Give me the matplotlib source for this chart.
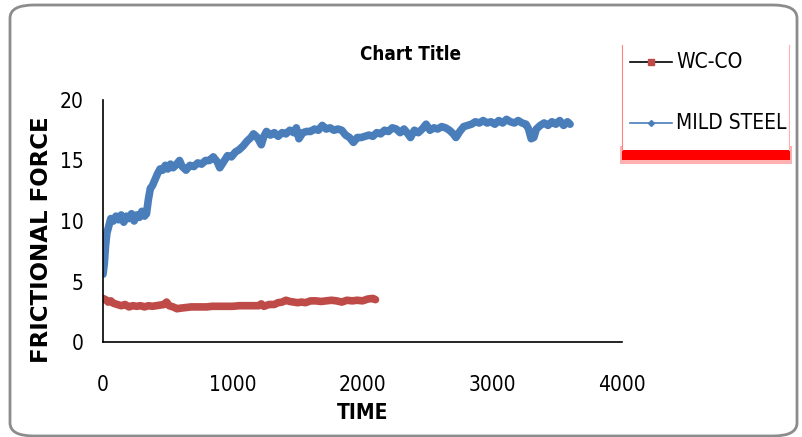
import matplotlib
matplotlib.use("Agg")
import matplotlib.pyplot as plt
from matplotlib import font_manager
from matplotlib.patches import FancyBboxPatch, Rectangle
from matplotlib.lines import Line2D

# ---- data ----
steel_time = [0, 10, 20, 30, 45, 60, 80, 100, 120, 140, 160, 180, 200, 220, 240, 260, 280, 300, 320, 335,
              350, 365, 380, 400, 420, 440, 460, 480, 500, 520, 540, 560, 590, 610, 640, 670, 700, 730, 760, 790,
              820, 850, 880, 900, 930, 960, 990, 1020, 1050, 1080, 1110, 1140, 1160, 1190, 1220, 1240, 1260, 1290,
              1320, 1350, 1380, 1410, 1440, 1470, 1490, 1510, 1540, 1570, 1600, 1630, 1660, 1690, 1720, 1750, 1780,
              1810, 1840, 1870, 1900, 1930, 1960, 1990, 2020, 2050, 2080, 2110, 2140, 2170, 2200, 2230, 2260, 2290,
              2320, 2350, 2370, 2400, 2430, 2460, 2490, 2520, 2550, 2580, 2610, 2640, 2670, 2700, 2720, 2750, 2780,
              2810, 2840, 2870, 2900, 2930, 2960, 2990, 3020, 3050, 3080, 3110, 3140, 3170, 3200, 3230, 3260, 3280,
              3300, 3320, 3340, 3370, 3400, 3430, 3460, 3490, 3520, 3550, 3580, 3600]
steel_force = [5.6, 6.5, 8.0, 9.0, 9.6, 10.2, 10.0, 10.4, 10.1, 10.5, 9.9, 10.4, 10.2, 10.6, 10.0, 10.5, 10.3, 10.8, 10.4, 10.6,
               11.8, 12.7, 12.9, 13.4, 13.9, 14.3, 14.2, 14.6, 14.3, 14.7, 14.4, 14.6, 15.0, 14.5, 14.2, 14.6, 14.5, 14.8, 14.7, 15.0,
               15.0, 15.3, 14.9, 14.4, 14.9, 15.4, 15.3, 15.7, 15.9, 16.2, 16.6, 16.9, 17.2, 16.9, 16.3, 17.0, 17.4, 17.1,
               17.3, 17.0, 17.3, 17.2, 17.5, 17.3, 17.7, 16.8, 17.3, 17.4, 17.4, 17.6, 17.5, 17.9, 17.6, 17.7, 17.5,
               17.6, 17.5, 17.1, 16.9, 16.5, 16.9, 16.9, 17.0, 17.1, 17.0, 17.3, 17.2, 17.5, 17.4, 17.7, 17.6, 17.3,
               17.6, 17.2, 16.9, 17.5, 17.3, 17.6, 18.0, 17.5, 17.7, 17.6, 17.8, 17.7, 17.5, 17.2, 16.9, 17.4, 17.8,
               17.9, 18.0, 18.2, 18.1, 18.3, 18.1, 18.2, 18.0, 18.3, 18.1, 18.4, 18.2, 18.1, 18.3, 18.1, 18.0, 17.6,
               16.8, 16.9, 17.6, 17.9, 18.1, 17.9, 18.2, 18.0, 18.3, 17.9, 18.2, 18.0]

wcco_time = [0, 20, 40, 60, 80, 110, 140, 170, 200, 230, 260, 290, 320, 350, 380, 410, 440, 470, 490, 510,
             540, 570, 600, 640, 680, 720, 760, 800, 840, 880, 920, 960, 1000, 1050, 1100, 1150, 1200, 1220, 1240,
             1280, 1320, 1350, 1380, 1410, 1440, 1470, 1500, 1530, 1560, 1600, 1640, 1680, 1720, 1760, 1800, 1840,
             1880, 1920, 1960, 2000, 2040, 2080, 2100]
wcco_force = [3.6, 3.5, 3.3, 3.4, 3.2, 3.1, 3.0, 3.1, 2.9, 3.0, 2.95, 3.0, 2.9, 3.0, 2.95, 3.0, 3.05, 3.1, 3.3, 3.0,
              2.9, 2.75, 2.8, 2.85, 2.9, 2.9, 2.9, 2.9, 2.95, 2.95, 2.95, 2.95, 2.95, 3.0, 3.0, 3.0, 3.0, 3.15, 2.95,
              3.1, 3.1, 3.25, 3.3, 3.45, 3.35, 3.3, 3.25, 3.3, 3.25, 3.4, 3.4, 3.35, 3.4, 3.45, 3.4, 3.3,
              3.45, 3.4, 3.45, 3.4, 3.55, 3.6, 3.5]

x_ticks = [0, 1000, 2000, 3000, 4000]
y_ticks = [0, 5, 10, 15, 20]
series_names = ["WC-CO", "MILD STEEL"]

BLUE = "#4A7EBB"
RED = "#BE4B48"

_names = {f.name for f in font_manager.fontManager.ttflist}
if "Liberation Sans Narrow" in _names:
    NARROW = dict(family="Liberation Sans Narrow")
else:
    NARROW = dict(family="DejaVu Sans", fontstretch="condensed")

W, H = 802, 437
fig = plt.figure(figsize=(W / 100, H / 100), dpi=100)
fig.patch.set_facecolor("white")

def fx(px):
    return px / W

def fy(py):
    return 1 - py / H

# outer rounded border
border = FancyBboxPatch((fx(10), fy(436)), fx(797) - fx(10), fy(5) - fy(436),
                        boxstyle="round,pad=0,rounding_size=0.03", transform=fig.transFigure,
                        facecolor="none", edgecolor="#8c8c8c", linewidth=2, zorder=0)
fig.patches.append(border)

ax = fig.add_axes([fx(103), fy(342), fx(622) - fx(103), fy(100) - fy(342)])
ax.plot(wcco_time, wcco_force, color=RED, lw=5.5, solid_joinstyle="round", solid_capstyle="round")
ax.plot(steel_time, steel_force, color=BLUE, lw=5.5, solid_joinstyle="round", solid_capstyle="round")

ax.set_xlim(0, 4000)
ax.set_ylim(0, 20)
ax.set_xticks(x_ticks)
ax.set_yticks(y_ticks)
ax.set_xticklabels([str(v) for v in x_ticks], fontsize=15, **NARROW)
ax.set_yticklabels([str(v) for v in y_ticks], fontsize=15, **NARROW)
ax.tick_params(axis="x", length=0, pad=24)
ax.tick_params(axis="y", length=0, pad=14)
for s in ["top", "right"]:
    ax.spines[s].set_visible(False)
for s in ["left", "bottom"]:
    ax.spines[s].set_color("black")
    ax.spines[s].set_linewidth(1.2)

# labels and title
fig.text(fx(410), fy(55), "Chart Title", ha="center", va="center", fontsize=13.5,
         fontweight="bold", **NARROW)
fig.text(fx(363), fy(413), "TIME", ha="center", va="center", fontsize=15,
         fontweight="bold", **NARROW)
fig.text(fx(42), fy(240), "FRICTIONAL FORCE", ha="center", va="center", rotation=90,
         fontsize=16.5, fontweight="bold", family="DejaVu Sans")

# legend (manual, with red shadow)
fig.patches.append(Rectangle((fx(620), fy(164)), fx(792) - fx(620), fy(146) - fy(164),
                             transform=fig.transFigure, facecolor="#ffb0b0", edgecolor="none", zorder=0.5))
fig.patches.append(Rectangle((fx(622), fy(160)), fx(790) - fx(622), fy(149) - fy(160),
                             transform=fig.transFigure, facecolor="#ff0000", edgecolor="none", zorder=1))
fig.patches.append(Rectangle((fx(622), fy(150)), fx(790) - fx(622), fy(38) - fy(150),
                             transform=fig.transFigure, facecolor="white", edgecolor="none", zorder=2))
fig.lines.append(Line2D([fx(622), fx(622)], [fy(45), fy(150)], transform=fig.transFigure,
                        color="#ff8080", lw=0.8, zorder=3))
fig.lines.append(Line2D([fx(789), fx(789)], [fy(45), fy(150)], transform=fig.transFigure,
                        color="#ffb0b0", lw=0.8, zorder=3))
fig.lines.append(Line2D([fx(630), fx(672)], [fy(62), fy(62)], transform=fig.transFigure,
                        color="black", lw=1.2, zorder=3))
fig.lines.append(Line2D([fx(651)], [fy(62)], transform=fig.transFigure, color=RED,
                        marker="s", markersize=5, linestyle="none", zorder=4))
fig.lines.append(Line2D([fx(630), fx(672)], [fy(123), fy(123)], transform=fig.transFigure,
                        color=BLUE, lw=1.2, zorder=3))
fig.lines.append(Line2D([fx(651)], [fy(123)], transform=fig.transFigure, color=BLUE,
                        marker="D", markersize=3, linestyle="none", zorder=4))
fig.text(fx(676), fy(62), series_names[0], ha="left", va="center", fontsize=15, zorder=5, **NARROW)
fig.text(fx(676), fy(123), series_names[1], ha="left", va="center", fontsize=15, zorder=5, **NARROW)

fig.savefig("out.png", dpi=100)
